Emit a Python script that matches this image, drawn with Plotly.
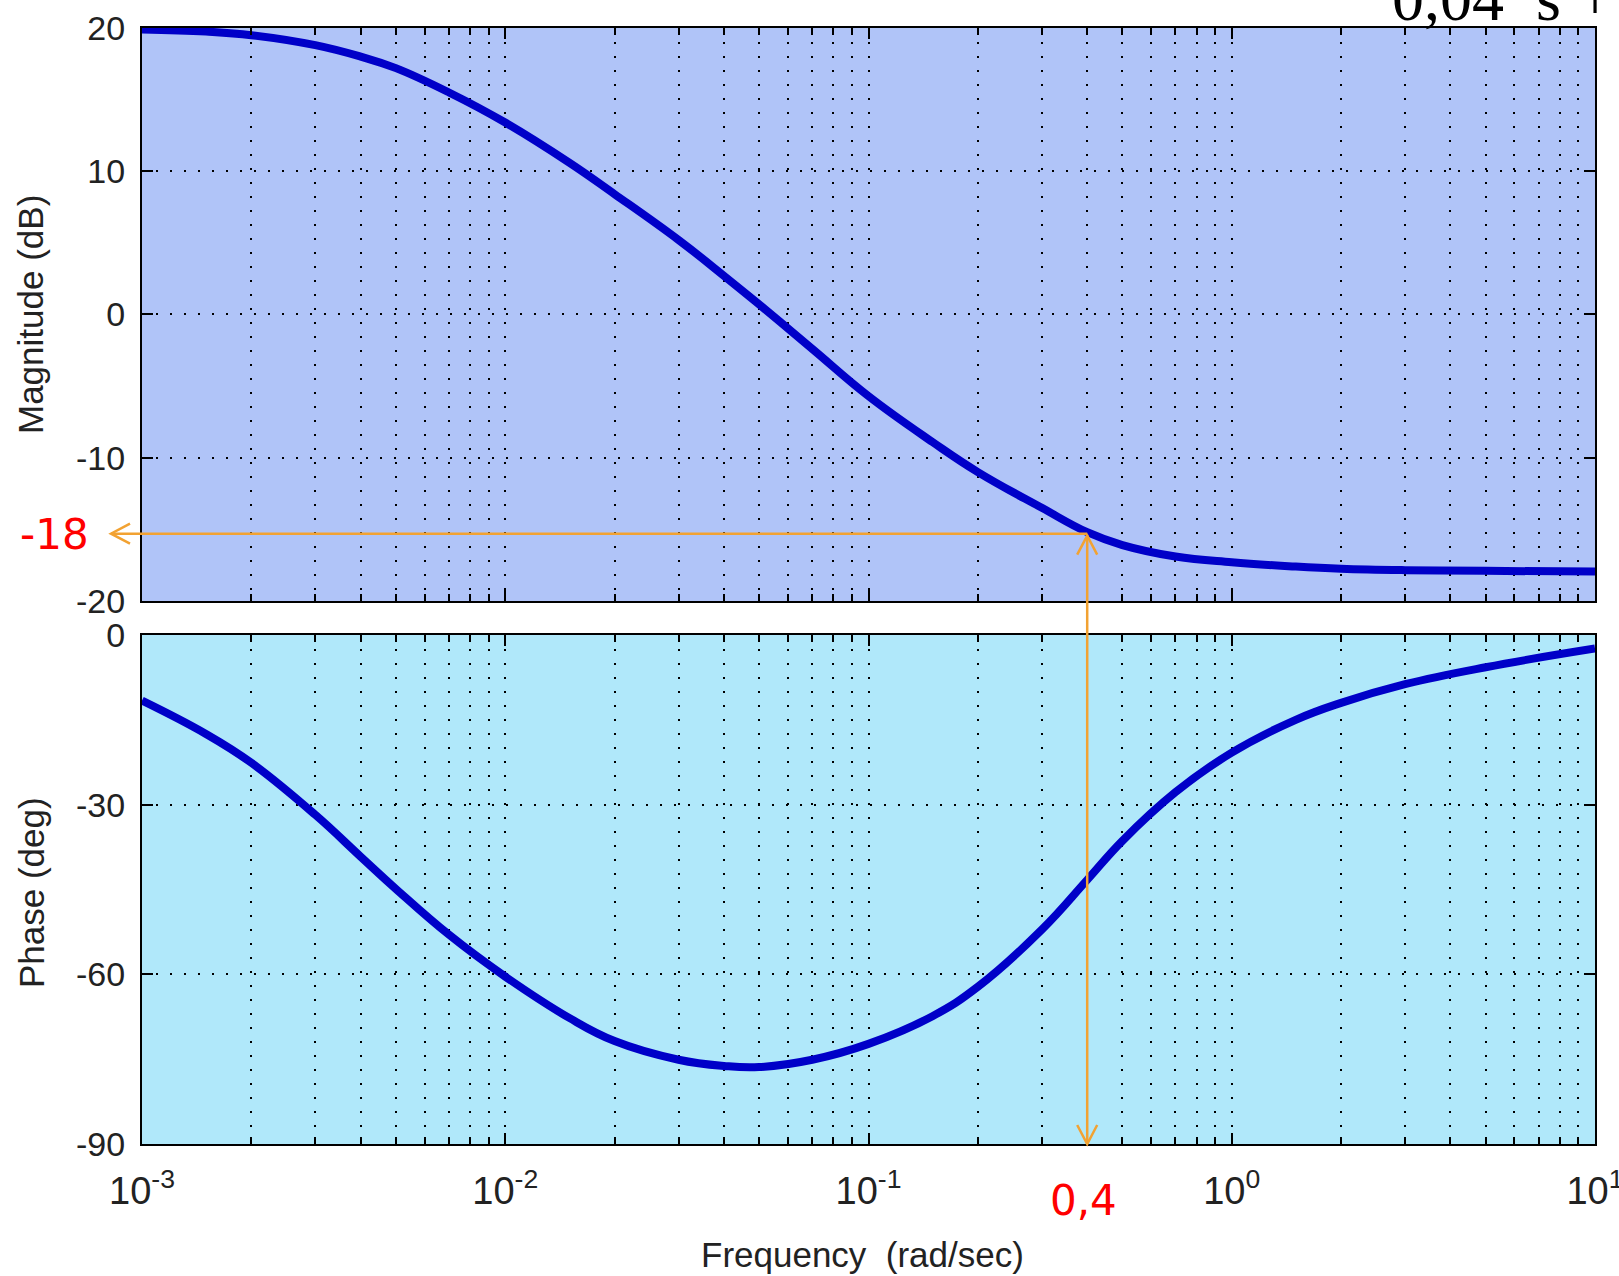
import plotly.graph_objects as go
import math

# ---------------- data ----------------
freq = [0.001, 0.0015, 0.002, 0.003, 0.004, 0.005, 0.007, 0.01, 0.015, 0.02,
        0.03, 0.04, 0.05, 0.07, 0.1, 0.15, 0.2, 0.3, 0.4, 0.5, 0.7, 1.0,
        1.5, 2.0, 3.0, 5.0, 10.0]
magnitude_db = [19.9, 19.75, 19.5, 18.8, 18.0, 17.2, 15.5, 13.4, 10.6, 8.4,
                5.2, 2.7, 0.7, -2.4, -5.7, -8.9, -11.0, -13.5, -15.2, -16.1,
                -16.9, -17.3, -17.6, -17.75, -17.85, -17.9, -17.95]
phase_deg = [-11.6, -17.5, -22.6, -31.8, -39.2, -44.9, -53.0, -60.4, -67.7, -71.8,
             -75.1, -76.2, -76.4, -75.1, -72.3, -67.4, -62.2, -52.1, -43.3, -36.4,
             -27.8, -20.8, -15.0, -12.0, -8.7, -5.7, -2.4]

x_tickvals = [0.001, 0.01, 0.1, 1, 10]
x_ticktext = ["10<sup>-3</sup>", "10<sup>-2</sup>", "10<sup>-1</sup>",
              "10<sup>0</sup>", "10<sup>1</sup>"]
mag_ticks = [20, 10, 0, -10, -20]
mag_ticktext = ["20", "10", "0", "-10", "-20"]
phase_ticks = [0, -30, -60, -90]
phase_ticktext = ["0", "-30", "-60", "-90"]

marker_freq = 0.4
marker_mag = -15.3
marker_label_mag = "-18"
marker_label_freq = "0,4"

# ---------------- layout geometry ----------------
W, H = 1619, 1276
ML, MR, MT, MB = 142, 24, 28, 132
PW = W - ML - MR
PH = H - MT - MB
top_dom = [0.4866, 1.0]
bot_dom = [0.0, 0.4561]
XR = [-3, 1]

def px_x(p):
    return (p - ML) / PW

def px_y(p):
    return (H - MB - p) / PH

def fx(f):
    return (math.log10(f) - XR[0]) / (XR[1] - XR[0])

def top_y(v):
    return top_dom[0] + (v + 20) / 40 * (top_dom[1] - top_dom[0])

def bot_y(v):
    return bot_dom[0] + (v + 90) / 90 * (bot_dom[1] - bot_dom[0])

minor_vals = [k * 10 ** e for e in range(-3, 1) for k in range(2, 10)]

curve_color = "#0000c8"
fig = go.Figure()
fig.add_trace(go.Scatter(x=freq, y=magnitude_db, mode="lines",
                         line=dict(color=curve_color, width=8, shape="spline", smoothing=1.2),
                         xaxis="x", yaxis="y", showlegend=False, hoverinfo="skip"))
fig.add_trace(go.Scatter(x=freq, y=phase_deg, mode="lines",
                         line=dict(color=curve_color, width=8, shape="spline", smoothing=1.2),
                         xaxis="x2", yaxis="y2", showlegend=False, hoverinfo="skip"))

tick_font = dict(family="Liberation Sans, Arial, sans-serif", size=34, color="#222222")
xtick_font = dict(family="Liberation Sans, Arial, sans-serif", size=38, color="#222222")
grid_dash = "2px,12px"

def xaxis_common(show_labels, anchor):
    return dict(type="log", range=XR, anchor=anchor,
                tickmode="array", tickvals=x_tickvals, ticktext=x_ticktext,
                showticklabels=show_labels, tickfont=xtick_font,
                ticklabeloverflow="allow",
                ticks="inside", ticklen=11, tickwidth=2, tickcolor="black",
                showline=True, linecolor="black", linewidth=2, mirror="allticks",
                showgrid=True, gridcolor="black", gridwidth=2, griddash=grid_dash,
                zeroline=False, ticklabelstandoff=12,
                minor=dict(tickmode="array", tickvals=minor_vals, ticks="inside",
                           ticklen=7, tickwidth=2, tickcolor="black",
                           showgrid=True, gridcolor="black", gridwidth=2,
                           griddash=grid_dash))

def yaxis_common(rng, ticks, ticktext, dom, anchor):
    return dict(range=rng, domain=dom, anchor=anchor,
                tickmode="array", tickvals=ticks, ticktext=ticktext, tickfont=tick_font,
                ticks="inside", ticklen=11, tickwidth=2, tickcolor="black",
                showline=True, linecolor="black", linewidth=2, mirror="allticks",
                showgrid=True, gridcolor="black", gridwidth=2, griddash=grid_dash,
                zeroline=False, ticklabelstandoff=8)

fig.update_layout(
    width=W, height=H,
    margin=dict(l=ML, r=MR, t=MT, b=MB, autoexpand=False),
    paper_bgcolor="white",
    xaxis=xaxis_common(False, "y"),
    xaxis2=dict(xaxis_common(True, "y2"), matches="x"),
    yaxis=yaxis_common([-20, 20], mag_ticks, mag_ticktext, top_dom, "x"),
    yaxis2=yaxis_common([-90, 0], phase_ticks, phase_ticktext, bot_dom, "x2"),
)

# plot backgrounds
fig.add_shape(type="rect", xref="x domain", yref="y domain", x0=0, x1=1, y0=0, y1=1,
              fillcolor="rgb(176,196,248)", line=dict(width=0), layer="below")
fig.add_shape(type="rect", xref="x2 domain", yref="y2 domain", x0=0, x1=1, y0=0, y1=1,
              fillcolor="rgb(176,232,250)", line=dict(width=0), layer="below")

# axis titles
title_font = dict(family="Liberation Sans, Arial, sans-serif", size=35, color="#222222")
fig.add_annotation(text="Magnitude (dB)", xref="paper", yref="paper",
                   x=px_x(31), y=px_y(315), textangle=-90, showarrow=False,
                   font=title_font, xanchor="center", yanchor="middle")
fig.add_annotation(text="Phase (deg)", xref="paper", yref="paper",
                   x=px_x(31), y=px_y(893), textangle=-90, showarrow=False,
                   font=title_font, xanchor="center", yanchor="middle")
fig.add_annotation(text="Frequency&nbsp;&nbsp;(rad/sec)", xref="paper", yref="paper",
                   x=px_x(862), y=px_y(1254), showarrow=False,
                   font=title_font, xanchor="center", yanchor="middle")

# cut-off formula fragment at the top right
fig.add_annotation(text="0,04&nbsp;&nbsp;s +", xref="paper", yref="paper",
                   x=px_x(1390), y=px_y(36), showarrow=False, xanchor="left",
                   yanchor="bottom",
                   font=dict(family="Liberation Serif, serif", size=64, color="black"))

# orange marker arrows
orange = "#f2a232"
ax_x = fx(marker_freq)
ay_top = top_y(marker_mag)
ay_bot = bot_y(-90)
left_tip = px_x(111)
hx = 19 / PW
hy = 19 / PH
wx = 10 / PW
wy = 10 / PH
line_style = dict(color=orange, width=2.5)
fig.add_shape(type="line", xref="paper", yref="paper",
              x0=left_tip, x1=ax_x, y0=ay_top, y1=ay_top, line=line_style)
fig.add_shape(type="line", xref="paper", yref="paper",
              x0=ax_x, x1=ax_x, y0=ay_top - 1 / PH, y1=ay_bot, line=line_style)
# arrow heads (open V)
fig.add_shape(type="path", xref="paper", yref="paper",
              path=f"M {left_tip + hx} {ay_top + wy} L {left_tip} {ay_top} L {left_tip + hx} {ay_top - wy}",
              line=line_style)
fig.add_shape(type="path", xref="paper", yref="paper",
              path=f"M {ax_x - wx} {ay_top - 2 / PH - hy} L {ax_x} {ay_top - 2 / PH} L {ax_x + wx} {ay_top - 2 / PH - hy}",
              line=line_style)
fig.add_shape(type="path", xref="paper", yref="paper",
              path=f"M {ax_x - wx} {ay_bot + hy} L {ax_x} {ay_bot} L {ax_x + wx} {ay_bot + hy}",
              line=line_style)

red_font = dict(family="DejaVu Sans, Verdana, sans-serif", size=42, color="#ff0000")
fig.add_annotation(text=marker_label_mag, xref="paper", yref="paper",
                   x=px_x(54), y=px_y(534), showarrow=False, font=red_font,
                   xanchor="center", yanchor="middle")
fig.add_annotation(text=marker_label_freq, xref="paper", yref="paper",
                   x=ax_x - 4 / PW, y=px_y(1200), showarrow=False, font=red_font,
                   xanchor="center", yanchor="middle")

fig.write_html("out.html")
